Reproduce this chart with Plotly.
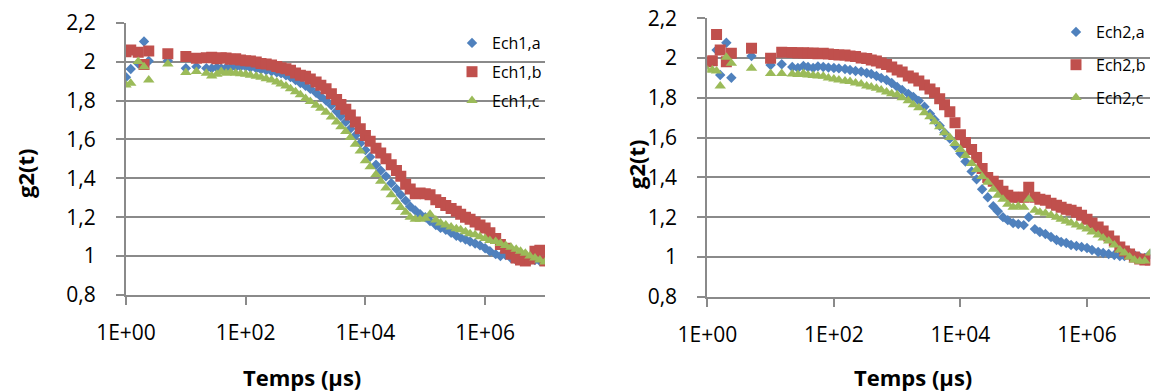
import plotly.graph_objects as go

# ---------------- data ----------------
t1 = [1, 1.2, 1.6, 2, 2.4, 5, 10, 15,
      22, 27, 33, 39, 47, 56, 68, 82,
      100, 120, 150, 180, 220, 270, 330, 390, 470, 560, 680, 820,
      1000, 1200, 1500, 1800, 2200, 2700, 3300, 3900, 4700, 5600, 6800, 8200,
      10000, 12000, 15000, 18000, 22000, 27000, 33000, 39000, 47000, 56000, 68000, 82000,
      100000, 120000, 150000, 180000, 220000, 270000, 330000, 390000, 470000, 560000, 680000, 820000,
      1000000, 1200000, 1500000, 1800000, 2200000, 2700000, 3300000, 3900000, 4700000, 5600000, 6800000, 8200000,
      10000000]

ech1_a = [1.920, 1.962, 1.990, 2.103, 2.003, 2.005, 1.966, 1.974,
          1.966, 1.965, 1.970, 1.965, 1.968, 1.970, 1.972, 1.975,
          1.974, 1.970, 1.965, 1.960, 1.955, 1.950, 1.945, 1.940, 1.930, 1.920, 1.905, 1.890,
          1.875, 1.860, 1.840, 1.820, 1.800, 1.775, 1.745, 1.720, 1.690, 1.655, 1.620, 1.580,
          1.545, 1.510, 1.470, 1.440, 1.410, 1.375, 1.345, 1.315, 1.285, 1.255, 1.235, 1.215,
          1.200, 1.180, 1.160, 1.145, 1.135, 1.120, 1.105, 1.095, 1.085, 1.075, 1.065, 1.055,
          1.040, 1.025, 1.010, 1.000, 1.005, 0.990, 0.980, 0.985, 0.980, 0.978, 0.980, 0.975,
          0.975]

ech1_b = [2.051, 2.060, 2.048, 1.985, 2.055, 2.040, 2.026, 2.017,
          2.020, 2.022, 2.015, 2.020, 2.018, 2.012, 2.015, 2.008,
          2.005, 2.003, 1.998, 1.990, 1.988, 1.982, 1.975, 1.968, 1.963, 1.955, 1.942, 1.930,
          1.925, 1.910, 1.895, 1.878, 1.860, 1.835, 1.805, 1.780, 1.755, 1.725, 1.690, 1.655,
          1.620, 1.590, 1.555, 1.530, 1.500, 1.470, 1.440, 1.410, 1.370, 1.345, 1.320, 1.325,
          1.320, 1.315, 1.290, 1.275, 1.260, 1.245, 1.230, 1.215, 1.200, 1.190, 1.175, 1.160,
          1.145, 1.120, 1.090, 1.060, 1.040, 1.010, 0.990, 0.980, 0.975, 0.985, 1.025, 1.030,
          0.975]

ech1_c = [1.880, 1.889, 2.000, 1.974, 1.906, 1.988, 1.944, 1.949,
          1.940, 1.926, 1.935, 1.949, 1.940, 1.945, 1.940, 1.938,
          1.935, 1.930, 1.925, 1.920, 1.912, 1.905, 1.895, 1.885, 1.875, 1.860, 1.845, 1.830,
          1.810, 1.795, 1.775, 1.760, 1.740, 1.715, 1.690, 1.665, 1.640, 1.610, 1.575, 1.540,
          1.490, 1.460, 1.420, 1.385, 1.350, 1.315, 1.280, 1.250, 1.225, 1.200, 1.190, 1.190,
          1.195, 1.215, 1.185, 1.170, 1.160, 1.150, 1.140, 1.135, 1.125, 1.115, 1.110, 1.100,
          1.090, 1.080, 1.075, 1.065, 1.055, 1.045, 1.035, 1.025, 1.015, 1.000, 0.990, 0.980,
          0.970]

t2 = [1, 1.2, 1.4, 1.6, 2, 2.4, 5, 10, 15,
      22, 27, 33, 39, 47, 56, 68, 82,
      100, 120, 150, 180, 220, 270, 330, 390, 470, 560, 680, 820,
      1000, 1200, 1500, 1800, 2200, 2700, 3300, 3900, 4700, 5600, 6800, 8200,
      10000, 12000, 15000, 18000, 22000, 27000, 33000, 39000, 47000, 56000, 68000, 82000,
      100000, 120000, 150000, 180000, 220000, 270000, 330000, 390000, 470000, 560000, 680000, 820000,
      1000000, 1200000, 1500000, 1800000, 2200000, 2700000, 3300000, 3900000, 4700000, 5600000, 6800000, 8200000,
      10000000]

ech2_a = [1.970, 1.980, 2.040, 1.915, 2.077, 1.901, 2.010, 1.965, 1.969,
          1.955, 1.950, 1.960, 1.955, 1.950, 1.958, 1.955, 1.952,
          1.950, 1.948, 1.945, 1.940, 1.935, 1.932, 1.925, 1.920, 1.910, 1.900, 1.890, 1.875,
          1.855, 1.840, 1.820, 1.805, 1.785, 1.755, 1.720, 1.690, 1.660, 1.625, 1.595, 1.560,
          1.520, 1.480, 1.430, 1.390, 1.340, 1.300, 1.255, 1.230, 1.200, 1.185, 1.170, 1.165,
          1.160, 1.200, 1.140, 1.125, 1.115, 1.100, 1.085, 1.075, 1.070, 1.060, 1.055, 1.050,
          1.045, 1.035, 1.025, 1.020, 1.015, 1.010, 1.005, 1.005, 1.020, 1.010, 1.000, 0.995,
          1.015]

ech2_b = [1.982, 1.987, 2.118, 2.040, 1.982, 2.024, 2.049, 1.999, 2.029,
          2.028, 2.025, 2.027, 2.024, 2.025, 2.022, 2.024, 2.020,
          2.018, 2.016, 2.015, 2.010, 2.008, 2.000, 1.998, 1.990, 1.985, 1.975, 1.968, 1.955,
          1.940, 1.930, 1.910, 1.900, 1.885, 1.865, 1.845, 1.825, 1.795, 1.765, 1.730, 1.675,
          1.615, 1.575, 1.540, 1.500, 1.445, 1.400, 1.380, 1.360, 1.330, 1.310, 1.300, 1.300,
          1.300, 1.350, 1.300, 1.290, 1.285, 1.270, 1.260, 1.250, 1.240, 1.235, 1.225, 1.210,
          1.190, 1.170, 1.150, 1.130, 1.105, 1.080, 1.050, 1.030, 1.015, 1.000, 0.990, 0.985,
          0.985]

ech2_c = [1.940, 1.940, 1.935, 1.860, 2.004, 1.974, 1.949, 1.923, 1.923,
          1.920, 1.918, 1.922, 1.915, 1.912, 1.910, 1.908, 1.900,
          1.895, 1.890, 1.885, 1.882, 1.875, 1.870, 1.860, 1.855, 1.848, 1.840, 1.830, 1.820,
          1.815, 1.800, 1.785, 1.765, 1.750, 1.725, 1.705, 1.680, 1.655, 1.625, 1.600, 1.570,
          1.540, 1.510, 1.470, 1.440, 1.405, 1.375, 1.340, 1.310, 1.290, 1.265, 1.250, 1.255,
          1.250, 1.290, 1.235, 1.225, 1.220, 1.210, 1.200, 1.190, 1.180, 1.170, 1.160, 1.150,
          1.140, 1.125, 1.110, 1.095, 1.080, 1.060, 1.035, 1.020, 1.000, 0.985, 0.978, 0.980,
          1.020]

x_tickvals = [1, 100, 10000, 1000000]
x_ticktext = ["1E+00", "1E+02", "1E+04", "1E+06"]
y_tickvals = [0.8, 1.0, 1.2, 1.4, 1.6, 1.8, 2.0, 2.2]
y_ticktext = ["0,8", "1", "1,2", "1,4", "1,6", "1,8", "2", "2,2"]

names1 = ["Ech1,a", "Ech1,b", "Ech1,c"]
names2 = ["Ech2,a", "Ech2,b", "Ech2,c"]

# ---------------- styling ----------------
W, H = 1152, 392
FONT = "'Open Sans', Lato, sans-serif"
GRID = "#8a8a8a"
colors = ["#4F81BD", "#C0504D", "#9BBB59"]
symbols = ["diamond", "square", "triangle-up"]
sizes = [8, 11, 10]

fig = go.Figure()

for ys, nm, c, s, sz in zip([ech1_a, ech1_b, ech1_c], names1, colors, symbols, sizes):
    fig.add_trace(go.Scatter(x=t1, y=ys, name=nm, mode="markers",
                             marker=dict(symbol=s, size=sz, color=c, line=dict(width=0)),
                             xaxis="x", yaxis="y", legend="legend", legendgroup=nm))
for ys, nm, c, s, sz in zip([ech2_a, ech2_b, ech2_c], names2, colors, symbols, sizes):
    fig.add_trace(go.Scatter(x=t2, y=ys, name=nm, mode="markers",
                             marker=dict(symbol=s, size=sz, color=c, line=dict(width=0)),
                             xaxis="x2", yaxis="y2", legend="legend2", legendgroup=nm))


def px(x):
    return x / W


def py(y):
    return 1 - y / H


xcommon = dict(type="log", range=[0, 7], tickvals=x_tickvals, ticktext=x_ticktext,
               showgrid=False, zeroline=False, showline=True, linecolor=GRID, linewidth=2,
               ticks="outside", ticklen=8, tickwidth=2, tickcolor=GRID, automargin=False,
               tickfont=dict(family=FONT, size=21, color="#000"), ticklabelstandoff=10)
ycommon = dict(range=[0.8, 2.2], tickvals=y_tickvals, ticktext=y_ticktext,
               showgrid=True, gridcolor=GRID, gridwidth=2, zeroline=False,
               showline=True, linecolor=GRID, linewidth=2, automargin=False,
               ticks="outside", ticklen=8, tickwidth=2, tickcolor=GRID,
               tickfont=dict(family=FONT, size=21, color="#000"), ticklabelstandoff=16)

legcommon = dict(bgcolor="rgba(0,0,0,0)", font=dict(family=FONT, size=16, color="#000"),
                 yanchor="top", traceorder="grouped", borderwidth=0)

fig.update_layout(
    width=W, height=H, autosize=False,
    margin=dict(l=0, r=0, t=0, b=0, autoexpand=False),
    paper_bgcolor="white", plot_bgcolor="white",
    xaxis=dict(domain=[px(126), px(545)], anchor="y", **xcommon),
    yaxis=dict(domain=[py(295), py(22.7)], anchor="x", **ycommon),
    xaxis2=dict(domain=[px(707.3), px(1150.3)], anchor="y2", **xcommon),
    yaxis2=dict(domain=[py(296.7), py(18.3)], anchor="x2", **ycommon),
    legend=dict(x=px(452), xanchor="left", y=py(26), tracegroupgap=5, **legcommon),
    legend2=dict(x=px(1151), xanchor="right", y=py(15), tracegroupgap=9, **legcommon),
    showlegend=True,
)

titlefont = dict(family=FONT, size=22, color="#000", weight="bold")
fig.add_annotation(text="Temps (µs)", x=px(301.5), y=py(377), xref="paper", yref="paper",
                   showarrow=False, font=titlefont, xanchor="center", yanchor="middle")
fig.add_annotation(text="Temps (µs)", x=px(913), y=py(377), xref="paper", yref="paper",
                   showarrow=False, font=titlefont, xanchor="center", yanchor="middle")
fig.add_annotation(text="g2(t)", x=px(25), y=py(174), xref="paper", yref="paper",
                   showarrow=False, font=titlefont, textangle=-90, xanchor="center", yanchor="middle")
fig.add_annotation(text="g2(t)", x=px(636), y=py(165), xref="paper", yref="paper",
                   showarrow=False, font=titlefont, textangle=-90, xanchor="center", yanchor="middle")

fig.write_html("out.html", config={"displayModeBar": False},
               post_script="document.body.style.margin='0px';")
